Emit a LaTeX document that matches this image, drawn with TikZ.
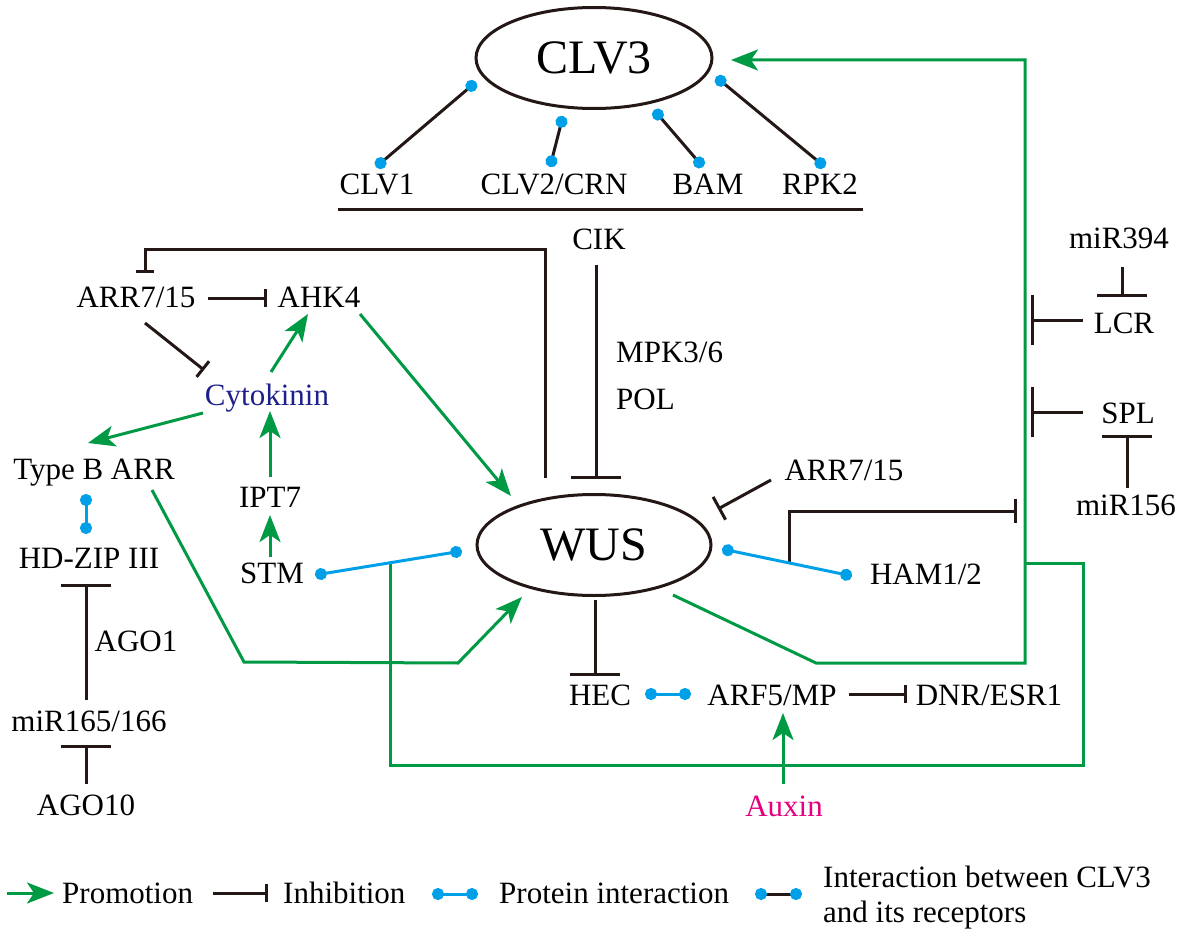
\documentclass[tikz,border=0pt]{standalone}
\usepackage{fontspec}
\setmainfont{Liberation Serif}
\usetikzlibrary{arrows.meta,shapes.geometric}
\definecolor{dk}{RGB}{35,24,21}
\definecolor{gr}{RGB}{0,153,68}
\definecolor{bl}{RGB}{0,160,233}
\definecolor{cyto}{RGB}{29,32,136}
\definecolor{aux}{RGB}{228,0,127}
\begin{document}
\begin{tikzpicture}[x=1pt,y=-1pt,
  lbl/.style={anchor=base, inner sep=0pt, text=black, font=\fontsize{31}{37}\selectfont},
  big/.style={ellipse, draw=dk, line width=3pt, inner sep=0pt, font=\fontsize{48}{50}\selectfont},
  prom/.style={draw=gr, line width=3pt, -{Stealth[length=27pt,width=21pt,inset=7pt]}},
  inh/.style={draw=dk, line width=3pt, -{Bar[width=#1]}},
  inh/.default=50pt,
  ppi/.style={draw=bl, line width=3pt, {Circle[length=12pt]}-{Circle[length=12pt]}},
  rec/.style={draw=dk, line width=3pt, {Circle[length=12pt,color=bl]}-{Circle[length=12pt,color=bl]}},
  dkline/.style={draw=dk, line width=3pt},
  grline/.style={draw=gr, line width=3pt}]
\useasboundingbox (0,0) rectangle (1187,931);

% main nodes
\node[big, minimum width=236pt, minimum height=101pt] (clv3) at (594,58) {CLV3};
\node[big, minimum width=234pt, minimum height=101pt] (wus) at (594,545) {WUS};

% labels
\node[lbl] (clv1) at (377,195) {CLV1};
\node[lbl] (clv2) at (554,195) {CLV2/CRN};
\node[lbl] (bam) at (708,195) {BAM};
\node[lbl] (rpk2) at (820,195) {RPK2};
\node[lbl] (cik) at (599,249) {CIK};
\node[lbl, anchor=base west] (mpk) at (616,362) {MPK3/6};
\node[lbl, anchor=base west] (pol) at (616,409) {POL};
\node[lbl] (arrL) at (136,307) {ARR7/15};
\node[lbl] (ahk4) at (319,307) {AHK4};
\node[lbl, text=cyto] (cyt) at (267,405) {Cytokinin};
\node[lbl] (typeb) at (94,479) {Type B ARR};
\node[lbl] (ipt7) at (270,507) {IPT7};
\node[lbl] (hdzip) at (89,568) {HD-ZIP III};
\node[lbl] (stm) at (272,583) {STM};
\node[lbl] (ago1) at (136,651) {AGO1};
\node[lbl] (mir165) at (89,731) {miR165/166};
\node[lbl] (ago10) at (86,815) {AGO10};
\node[lbl] (arrR) at (844,480) {ARR7/15};
\node[lbl] (ham) at (926,584) {HAM1/2};
\node[lbl] (hec) at (600,705) {HEC};
\node[lbl] (arf5) at (772,705) {ARF5/MP};
\node[lbl] (dnr) at (989,705) {DNR/ESR1};
\node[lbl, text=aux] (auxin) at (784,816) {Auxin};
\node[lbl] (mir394) at (1119,248) {miR394};
\node[lbl] (lcr) at (1124,333) {LCR};
\node[lbl] (spl) at (1128,423) {SPL};
\node[lbl] (mir156) at (1126,515) {miR156};

% connection points
\coordinate (c3a) at (476,82);  \coordinate (r1) at (376,167);
\coordinate (c3b) at (563,116); \coordinate (r2) at (550,167);
\coordinate (c3c) at (654,110); \coordinate (r3) at (703,167);
\coordinate (c3d) at (716,77);  \coordinate (r4) at (825,167);
\coordinate (ulA) at (338,210); \coordinate (ulB) at (863,210);
\coordinate (cikS) at (596,265); \coordinate (wusN) at (596,479);
\coordinate (wusNL) at (545,478); \coordinate (brA) at (545,249); \coordinate (brB) at (145,249); \coordinate (arrLN) at (145,273);
\coordinate (arrLE) at (208,298); \coordinate (ahkW) at (267,298);
\coordinate (arrLS) at (145,323); \coordinate (cytNW) at (204,370);
\coordinate (cytNE) at (271,372); \coordinate (ahkS) at (308,314);
\coordinate (cytSW) at (203,413); \coordinate (typebN) at (88,443);
\coordinate (iptN) at (270,477); \coordinate (cytS) at (270,411);
\coordinate (stmN) at (270,557); \coordinate (iptS) at (270,515);
\coordinate (typebS) at (86,494); \coordinate (hdzN) at (86,534);
\coordinate (mirN) at (86,700); \coordinate (hdzS) at (86,584);
\coordinate (ago10N) at (86,784); \coordinate (mirS) at (86,745);
\coordinate (ahkSE) at (360,314); \coordinate (wusNW) at (511,496);
\coordinate (stmE) at (315,575); \coordinate (wusW) at (462,551);
\coordinate (typebSE) at (152,490); \coordinate (g1) at (244,662); \coordinate (g2) at (458,663); \coordinate (wusSW) at (522,597);
\coordinate (brg) at (390,563); \coordinate (g3) at (390,765); \coordinate (g4) at (1083,765); \coordinate (g5) at (1083,563); \coordinate (g6) at (1025,563);
\coordinate (wusSE) at (673,595); \coordinate (g7) at (816,663); \coordinate (g8) at (1025,663); \coordinate (g9) at (1025,60); \coordinate (clv3E) at (731,60);
\coordinate (arrRSW) at (771,480); \coordinate (wusNE) at (718,509);
\coordinate (wusE) at (722,549); \coordinate (hamW) at (852,576);
\coordinate (hb) at (789,562); \coordinate (hb2) at (789,511); \coordinate (hbEnd) at (1017,511);
\coordinate (wusS) at (595,600); \coordinate (hecN) at (595,676);
\coordinate (hecE) at (645,694); \coordinate (arfW) at (691,694);
\coordinate (arfE) at (849,694); \coordinate (dnrW) at (907,694);
\coordinate (auxN) at (783,784); \coordinate (arfS) at (783,713);
\coordinate (m394S) at (1122,267); \coordinate (lcrN) at (1122,297);
\coordinate (lcrW) at (1083,320); \coordinate (gL) at (1031,320);
\coordinate (splW) at (1083,412); \coordinate (gS) at (1031,412);
\coordinate (m156N) at (1127,488); \coordinate (splS) at (1127,435);

% CLV3 receptors
\draw[rec] (c3a) -- (r1);
\draw[rec] (c3b) -- (r2);
\draw[rec] (c3c) -- (r3);
\draw[rec] (c3d) -- (r4);
\draw[dkline] (ulA) -- (ulB);

% inhibitions
\draw[inh] (cikS) -- (wusN);
\draw[inh=18pt] (wusNL) -- (brA) -- (brB) -- (arrLN);
\draw[inh=18pt] (arrLE) -- (ahkW);
\draw[inh=20pt] (arrLS) -- (cytNW);
\draw[inh] (mirN) -- (hdzS);
\draw[inh] (ago10N) -- (mirS);
\draw[inh=26pt] (arrRSW) -- (wusNE);
\draw[inh=24pt] (hb) -- (hb2) -- (hbEnd);
\draw[inh] (wusS) -- (hecN);
\draw[inh=18pt] (arfE) -- (dnrW);
\draw[inh] (m394S) -- (lcrN);
\draw[inh] (lcrW) -- (gL);
\draw[inh] (splW) -- (gS);
\draw[inh] (m156N) -- (splS);

% promotions
\draw[prom] (cytNE) -- (ahkS);
\draw[prom] (cytSW) -- (typebN);
\draw[prom] (iptN) -- (cytS);
\draw[prom] (stmN) -- (iptS);
\draw[prom] (ahkSE) -- (wusNW);
\draw[prom] (typebSE) -- (g1) -- (g2) -- (wusSW);
\draw[grline] (brg) -- (g3) -- (g4) -- (g5) -- (g6);
\draw[prom] (wusSE) -- (g7) -- (g8) -- (g9) -- (clv3E);
\draw[prom] (auxN) -- (arfS);

% protein interactions
\draw[ppi] (typebS) -- (hdzN);
\draw[ppi] (stmE) -- (wusW);
\draw[ppi] (wusE) -- (hamW);
\draw[ppi] (hecE) -- (arfW);

% legend
\coordinate (lg1a) at (7,893);   \coordinate (lg1b) at (54,893);
\coordinate (lg2a) at (213,893); \coordinate (lg2b) at (268,893);
\coordinate (lg3a) at (432,894); \coordinate (lg3b) at (478,894);
\coordinate (lg4a) at (755,894); \coordinate (lg4b) at (802,894);
\draw[prom] (lg1a) -- (lg1b);
\draw[inh=18pt] (lg2a) -- (lg2b);
\draw[ppi] (lg3a) -- (lg3b);
\draw[rec] (lg4a) -- (lg4b);
\node[lbl, anchor=base west] (lgt1) at (62,903) {Promotion};
\node[lbl, anchor=base west] (lgt2) at (283,903) {Inhibition};
\node[lbl, anchor=base west] (lgt3) at (499,903) {Protein interaction};
\node[lbl, anchor=north west, align=left, font=\fontsize{31}{35}\selectfont] (lgt4) at (823,866) {Interaction between CLV3\\and its receptors};
\end{tikzpicture}
\end{document}
